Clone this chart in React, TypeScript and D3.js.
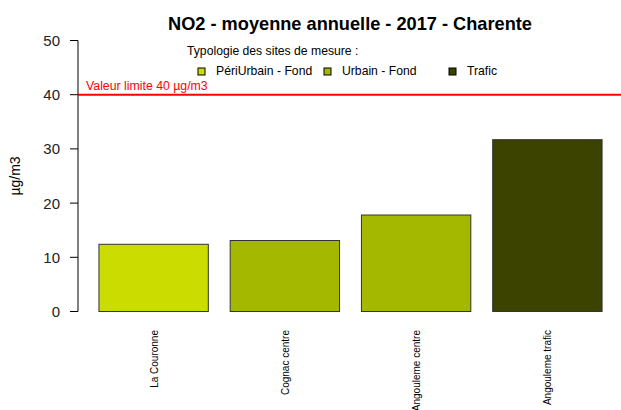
import React from "react";
import * as d3 from "d3";

const sites = ["La Couronne", "Cognac centre", "Angouleme centre", "Angouleme trafic"];
const values = [12.4, 13.1, 17.8, 31.7];
const siteTypes = ["PériUrbain - Fond", "Urbain - Fond", "Urbain - Fond", "Trafic"];
const legendTypes = ["PériUrbain - Fond", "Urbain - Fond", "Trafic"];
const typeColors = ["#CADC00", "#A5B800", "#3C4200"];
const yTicks = [0, 10, 20, 30, 40, 50];
const limitValue = 40;

const W = 621;
const H = 410;

export default function App() {
  const x = d3.scaleBand<string>().domain(sites).range([88, 613]).paddingInner(1 / 6).paddingOuter(1 / 12);
  const y = d3.scaleLinear().domain([0, 50]).range([311.5, 40.5]);
  const color = d3.scaleOrdinal<string, string>().domain(legendTypes).range(typeColors);
  const legendX = [198, 324, 449];
  const font = "Arial, 'Liberation Sans', sans-serif";

  return (
    <svg width={W} height={H} style={{ position: "absolute", left: 0, top: 0, background: "#fff" }} fontFamily={font}>
      <rect x={0} y={0} width={W} height={H} fill="#fff" />
      <text x={350} y={30} textAnchor="middle" fontWeight="bold" fontSize={18.2} fill="#000">
        NO2 - moyenne annuelle - 2017 - Charente
      </text>
      {/* y axis */}
      <line x1={78} x2={78} y1={y(0)} y2={y(50)} stroke="#000" strokeWidth={1} />
      {yTicks.map((t) => (
        <g key={t}>
          <line x1={70} x2={78} y1={y(t)} y2={y(t)} stroke="#000" strokeWidth={1} />
          <text x={60} y={y(t)} dy="0.36em" textAnchor="end" fontSize={15} fill="#222">
            {t}
          </text>
        </g>
      ))}
      <text transform={`translate(20,${(y(0) + y(50)) / 2}) rotate(-90)`} textAnchor="middle" fontSize={14} fill="#000">
        µg/m3
      </text>
      {/* bars */}
      {sites.map((s, i) => (
        <rect
          key={s}
          x={x(s)}
          y={y(values[i])}
          width={x.bandwidth()}
          height={y(0) - y(values[i])}
          fill={color(siteTypes[i])}
          stroke="#333"
          strokeWidth={1}
        />
      ))}
      {sites.map((s) => {
        const cx = (x(s) as number) + x.bandwidth() / 2;
        return (
          <text key={s} transform={`translate(${cx + 4},330) rotate(-90)`} textAnchor="end" fontSize={10} fill="#000">
            {s}
          </text>
        );
      })}
      {/* limit line */}
      <line x1={78} x2={W} y1={y(limitValue)} y2={y(limitValue)} stroke="#FF0000" strokeWidth={2} />
      <text x={86} y={90} fontSize={12.3} fill="#FF0000">
        Valeur limite {limitValue} µg/m3
      </text>
      {/* legend */}
      <text x={187} y={55} fontSize={12.2} fill="#000">
        Typologie des sites de mesure :
      </text>
      {legendTypes.map((t, i) => (
        <g key={t}>
          <rect x={legendX[i]} y={68} width={7} height={7} fill={color(t)} stroke="#000" strokeWidth={1} />
          <text x={legendX[i] + 18} y={75} fontSize={12.2} fill="#000">
            {t}
          </text>
        </g>
      ))}
    </svg>
  );
}
